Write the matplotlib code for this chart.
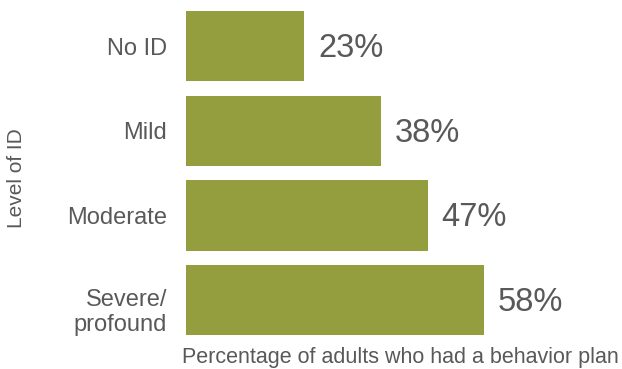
import matplotlib
matplotlib.use("Agg")
import matplotlib.pyplot as plt
import matplotlib.transforms as mtransforms

categories = ["No ID", "Mild", "Moderate", "Severe/\nprofound"]
values = [23, 38, 47, 58]
value_labels = ["23%", "38%", "47%", "58%"]

plt.rcParams['font.family'] = ['Liberation Sans', 'DejaVu Sans']
W, H = 622, 369
fig = plt.figure(figsize=(W/100, H/100), dpi=100)
ax = fig.add_axes([186/W, 1 - 342.5/H, (600-186)/W, (342.5-4)/H])
bar_color = "#949E3F"
text_color = "#595959"
y = list(range(len(categories)))
ax.barh(y, values, height=0.83, color=bar_color)
ax.set_ylim(len(categories) - 0.5, -0.5)
ax.set_xlim(0, 414/5.14)
for yi, v, lab in zip(y, values, value_labels):
    ax.annotate(lab, (v, yi), xytext=(10, -1.5), textcoords="offset points",
                ha="left", va="center", fontsize=23.5, color=text_color)
ax.set_yticks(y)
ax.set_yticklabels(categories, fontsize=17, color=text_color)
ax.tick_params(axis="y", length=0, pad=13.5)
for t in ax.get_yticklabels():
    t.set_linespacing(1.15)
last = ax.get_yticklabels()[-1]
last.set_transform(last.get_transform() +
                   mtransforms.ScaledTranslation(0, -6/72, fig.dpi_scale_trans))
ax.set_xticks([])
for s in ax.spines.values():
    s.set_visible(False)
fig.text(400/W, 1 - 357/H, "Percentage of adults who had a behavior plan",
         ha="center", va="center", fontsize=15.5, color=text_color)
fig.text(17/W, 1 - 178/H, "Level of ID", rotation=90, ha="center", va="center",
         fontsize=15, color=text_color)
fig.savefig("out.png", dpi=100, facecolor="white")
